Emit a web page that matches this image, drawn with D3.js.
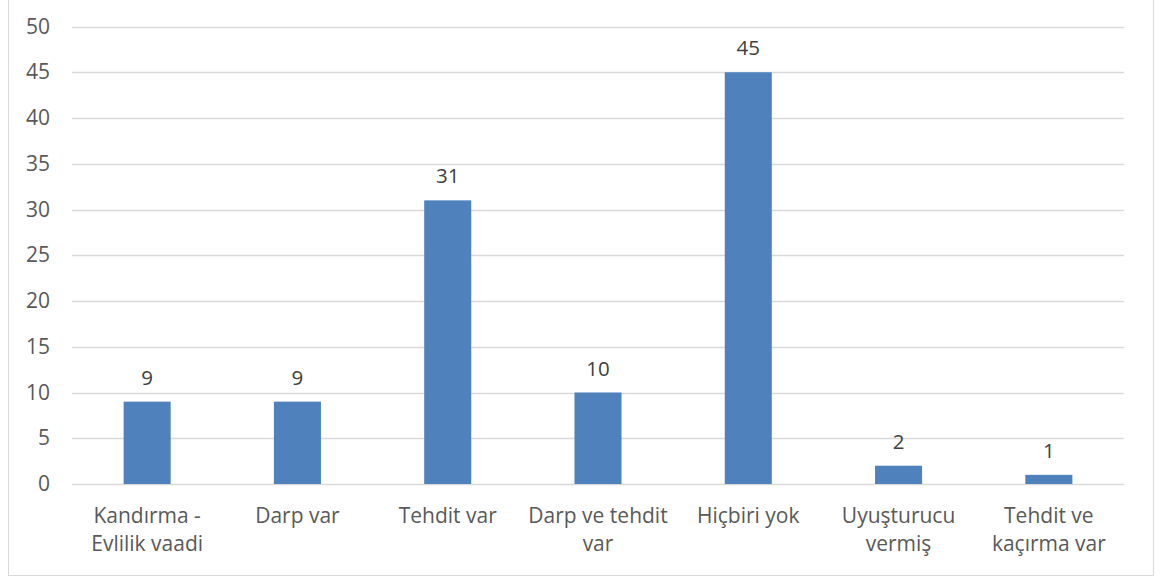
<!DOCTYPE html>
<html>
<head>
<meta charset="utf-8">
<script src="https://cdn.jsdelivr.net/npm/d3@7"></script>
<style>
  body { margin: 0; background: #fff; }
  svg { display: block; }
  text { font-family: "Open Sans", "Noto Sans", sans-serif; }
</style>
</head>
<body>
<svg id="chart" width="1160" height="577"></svg>
<script>
const categories = [
  ['Kandırma -', 'Evlilik vaadi'],
  ['Darp var'],
  ['Tehdit var'],
  ['Darp ve tehdit', 'var'],
  ['Hiçbiri yok'],
  ['Uyuşturucu', 'vermiş'],
  ['Tehdit ve', 'kaçırma var']
];
const values = [9, 9, 31, 10, 45, 2, 1];
const yTicks = [0, 5, 10, 15, 20, 25, 30, 35, 40, 45, 50];

const svg = d3.select('#chart');
const width = 1160;
const height = 577;
const margin = { top: 26.5, right: 36, bottom: 93, left: 72 };

// chart frame
svg.append('rect')
  .attr('x', 8.5).attr('y', -5)
  .attr('width', 1145).attr('height', 580.5)
  .attr('fill', 'none')
  .attr('stroke', '#d9d9d9')
  .attr('stroke-width', 1);

const keys = categories.map((c, i) => i);
const x = d3.scaleBand()
  .domain(keys)
  .range([margin.left, width - margin.right])
  .paddingInner(0.687)
  .paddingOuter(0.3435);

const y = d3.scaleLinear()
  .domain([0, 50])
  .range([height - margin.bottom, margin.top]);

// gridlines
svg.append('g')
  .selectAll('line')
  .data(yTicks)
  .join('line')
  .attr('x1', margin.left)
  .attr('x2', width - margin.right)
  .attr('y1', d => Math.round(y(d)) + 0.5)
  .attr('y2', d => Math.round(y(d)) + 0.5)
  .attr('stroke', '#d9d9d9')
  .attr('stroke-width', 1.3);

// y axis labels
const yAxis = svg.append('g')
  .attr('transform', `translate(${margin.left},0)`)
  .call(d3.axisLeft(y).tickValues(yTicks).tickSize(0).tickPadding(22));
yAxis.select('.domain').remove();
yAxis.selectAll('text')
  .attr('fill', '#595959')
  .style('font-size', '21px')
  .style('font-family', '"Open Sans", sans-serif');

// bars
svg.append('g')
  .selectAll('rect')
  .data(values)
  .join('rect')
  .attr('x', (d, i) => x(i))
  .attr('y', d => y(d))
  .attr('width', x.bandwidth())
  .attr('height', d => y(0) - y(d))
  .attr('fill', '#4f81bd');

// data labels
svg.append('g')
  .selectAll('text')
  .data(values)
  .join('text')
  .attr('x', (d, i) => x(i) + x.bandwidth() / 2)
  .attr('y', d => y(d) - 17)
  .attr('text-anchor', 'middle')
  .attr('fill', '#404040')
  .style('font-size', '20.5px')
  .text(d => d);

// category labels
const xl = svg.append('g')
  .selectAll('text')
  .data(categories)
  .join('text')
  .attr('x', (d, i) => x(i) + x.bandwidth() / 2)
  .attr('y', y(0) + 39)
  .attr('text-anchor', 'middle')
  .attr('fill', '#595959')
  .style('font-size', '21px');
xl.selectAll('tspan')
  .data(d => d)
  .join('tspan')
  .attr('x', function () { return d3.select(this.parentNode).attr('x'); })
  .attr('dy', (d, i) => i === 0 ? 0 : 28)
  .text(d => d);
</script>
</body>
</html>
